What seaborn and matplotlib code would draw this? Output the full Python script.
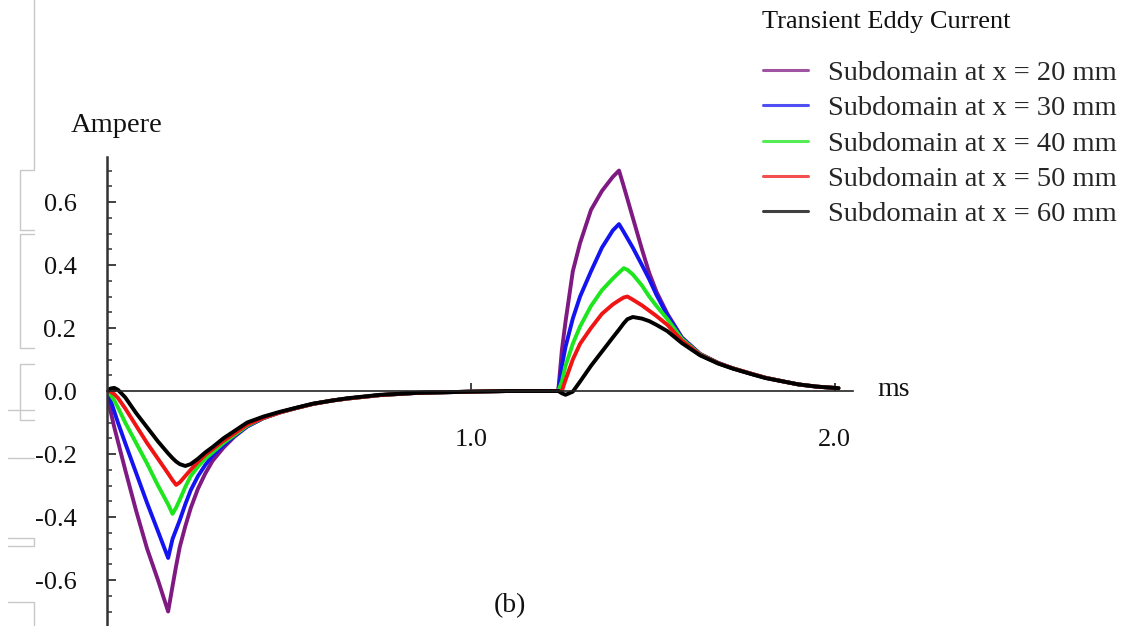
import numpy as np
import pandas as pd
import seaborn as sns
import matplotlib
matplotlib.use("Agg")
import matplotlib.pyplot as plt
from matplotlib.lines import Line2D
from matplotlib.ticker import MultipleLocator

# ---------------- data ----------------
t_ms = [0, 0.01, 0.02, 0.03, 0.05, 0.08, 0.11, 0.14, 0.168,
        0.18, 0.19, 0.2, 0.215, 0.23, 0.25, 0.27, 0.29,
        0.32, 0.35, 0.385, 0.43, 0.475, 0.52, 0.566, 0.62, 0.66,
        0.75, 0.85, 1.0, 1.1, 1.2, 1.24,
        1.25, 1.26, 1.28, 1.30, 1.33, 1.36, 1.39, 1.407,
        1.42, 1.43, 1.445, 1.47, 1.49, 1.51, 1.54, 1.58,
        1.63, 1.68, 1.72, 1.77, 1.81, 1.86, 1.90, 1.95, 2.01]

x20 = [0, -0.065, -0.115, -0.16, -0.25, -0.38, -0.50, -0.60, -0.70,
       -0.62, -0.555, -0.495, -0.43, -0.372, -0.31, -0.262, -0.222,
       -0.18, -0.145, -0.113, -0.086, -0.068, -0.054, -0.041, -0.030, -0.024,
       -0.013, -0.006, -0.002, 0.0, 0.0, 0.0,
       0.13, 0.22, 0.38, 0.47, 0.575, 0.635, 0.68, 0.70,
       0.65, 0.61, 0.55, 0.45, 0.375, 0.315, 0.245, 0.17,
       0.118, 0.089, 0.072, 0.055, 0.042, 0.030, 0.021, 0.014, 0.009]

x30 = [0, -0.03, -0.065, -0.10, -0.165, -0.26, -0.355, -0.445, -0.53,
       -0.47, -0.44, -0.41, -0.36, -0.315, -0.27, -0.235, -0.205,
       -0.172, -0.143, -0.112, -0.086, -0.068, -0.054, -0.041, -0.030, -0.024,
       -0.013, -0.006, -0.002, 0.0, 0.0, 0.0,
       0.08, 0.14, 0.23, 0.30, 0.38, 0.455, 0.51, 0.53,
       0.505, 0.485, 0.455, 0.40, 0.355, 0.305, 0.24, 0.168,
       0.117, 0.089, 0.072, 0.055, 0.042, 0.030, 0.021, 0.014, 0.009]

x40 = [0, -0.012, -0.03, -0.052, -0.10, -0.165, -0.23, -0.30, -0.36,
       -0.39, -0.37, -0.345, -0.305, -0.27, -0.24, -0.215, -0.195,
       -0.165, -0.14, -0.11, -0.085, -0.068, -0.054, -0.041, -0.030, -0.024,
       -0.013, -0.006, -0.002, 0.0, 0.0, 0.0,
       0.03, 0.08, 0.15, 0.205, 0.27, 0.32, 0.357, 0.376,
       0.39, 0.385, 0.37, 0.335, 0.30, 0.27, 0.228, 0.165,
       0.116, 0.088, 0.072, 0.055, 0.042, 0.030, 0.021, 0.014, 0.009]

x50 = [0, -0.002, -0.01, -0.022, -0.055, -0.11, -0.165, -0.215, -0.262,
       -0.283, -0.298, -0.29, -0.27, -0.25, -0.225, -0.203, -0.185,
       -0.158, -0.135, -0.107, -0.085, -0.068, -0.054, -0.041, -0.030, -0.024,
       -0.013, -0.006, -0.002, 0.0, 0.0, 0.0,
       0.0, 0.035, 0.10, 0.15, 0.20, 0.245, 0.275, 0.288,
       0.297, 0.30, 0.29, 0.272, 0.255, 0.238, 0.21, 0.16,
       0.115, 0.088, 0.072, 0.055, 0.042, 0.030, 0.021, 0.014, 0.009]

x60 = [0, 0.008, 0.01, 0.004, -0.02, -0.07, -0.115, -0.16, -0.198,
       -0.213, -0.224, -0.232, -0.238, -0.232, -0.215, -0.195, -0.178,
       -0.15, -0.127, -0.10, -0.081, -0.066, -0.053, -0.040, -0.030, -0.023,
       -0.012, -0.006, -0.002, 0.0, 0.0, 0.0,
       -0.007, -0.012, -0.002, 0.03, 0.08, 0.125, 0.17, 0.195,
       0.215, 0.228, 0.235, 0.23, 0.222, 0.21, 0.19, 0.152,
       0.113, 0.087, 0.071, 0.054, 0.041, 0.030, 0.021, 0.014, 0.009]

series_labels = ["Subdomain at x = 20 mm", "Subdomain at x = 30 mm",
                 "Subdomain at x = 40 mm", "Subdomain at x = 50 mm",
                 "Subdomain at x = 60 mm"]
series_colors = ["#7F1A82", "#1414F0", "#1EE61E", "#F01414", "#000000"]

x_ticks = [1.0, 2.0]
x_tick_labels = ["1.0", "2.0"]
y_ticks = [-0.6, -0.4, -0.2, 0.0, 0.2, 0.4, 0.6]
y_tick_labels = ["-0.6", "-0.4", "-0.2", "0.0", "0.2", "0.4", "0.6"]

# ---------------- build long table ----------------
frames = []
for lab, vals in zip(series_labels, [x20, x30, x40, x50, x60]):
    frames.append(pd.DataFrame({"t": t_ms, "I": vals, "series": lab}))
df = pd.concat(frames, ignore_index=True)

# ---------------- figure ----------------
sns.set_theme(style="white")
plt.rcParams["font.family"] = ["Liberation Serif", "DejaVu Serif"]

W, H = 1133, 626
fig = plt.figure(figsize=(W / 100, H / 100), dpi=100)
ax = fig.add_axes([107 / W, 0, (853 - 107) / W, (626 - 157) / H])

sns.lineplot(data=df, x="t", y="I", hue="series", hue_order=series_labels,
             palette=dict(zip(series_labels, series_colors)),
             estimator=None, sort=False, linewidth=2.8, ax=ax, legend=True)

ax.set_xlim(0, 2.05)
ax.set_ylim(-0.746, 0.743)
ax.set_xlabel("")
ax.set_ylabel("")

for s in ["top", "right"]:
    ax.spines[s].set_visible(False)
ax.spines["left"].set_position(("data", 0))
ax.spines["bottom"].set_position(("data", 0))
ax.spines["left"].set_linewidth(1.8)
ax.spines["left"].set_color("#333333")
ax.spines["bottom"].set_linewidth(1.2)
ax.spines["bottom"].set_color("#222222")

ax.set_xticks(x_ticks, labels=x_tick_labels)
ax.set_yticks(y_ticks, labels=y_tick_labels)
ax.yaxis.set_minor_locator(MultipleLocator(0.05))
ax.tick_params(axis="both", which="both", left=True, bottom=True)
ax.tick_params(axis="y", which="major", direction="in", length=6.5, width=1.3,
               color="#333333", pad=22, labelsize=19, labelcolor="#111111")
ax.tick_params(axis="y", which="minor", direction="in", length=3.5, width=1.1,
               color="#333333")
ax.tick_params(axis="x", which="major", direction="in", length=5.5, width=1.2,
               color="#222222", pad=27, labelsize=19, labelcolor="#111111")
ax.grid(False)

# legend
handles, labels = ax.get_legend_handles_labels()
leg = ax.legend(handles, labels, loc="upper left",
                bbox_to_anchor=(763 / W, 1 - 60 / H), bbox_transform=fig.transFigure,
                frameon=False, fontsize=20.5, handlelength=1.58, handletextpad=0.7,
                labelspacing=0.33, borderpad=0, borderaxespad=0)
for ln in leg.get_lines():
    ln.set_linewidth(2.2)
    ln.set_alpha(0.75)

fig.text(762 / W, 1 - 22 / H, "Transient Eddy Current", ha="left", va="center",
         fontsize=19, color="#111111")
fig.text(117 / W, 1 - 125 / H, "Ampere", ha="center", va="center",
         fontsize=20.5, color="#111111")
fig.text(877 / W, 1 - 390 / H, "ms", ha="left", va="center",
         fontsize=20, color="#111111")
fig.text(510 / W, 1 - 606 / H, "(b)", ha="center", va="center",
         fontsize=20, color="#111111")

# faint bracket-like scan marks at the left margin
gray = "#C8C8C8"
marks = [
    [(34, 0), (34, 170), (20, 170), (20, 230), (34, 230)],
    [(34, 234), (20, 234), (20, 348), (34, 348)],
    [(34, 364), (20, 364), (20, 420), (34, 420)],
    [(8, 410), (34, 410)],
    [(8, 458), (34, 458)],
    [(8, 538), (34, 538), (34, 546), (8, 546)],
    [(8, 602), (34, 602), (34, 626)],
]
for seg in marks:
    xs = [p[0] / W for p in seg]
    ys = [1 - p[1] / H for p in seg]
    fig.add_artist(Line2D(xs, ys, transform=fig.transFigure, color=gray, lw=1.0))

fig.savefig("out.png", dpi=100)
